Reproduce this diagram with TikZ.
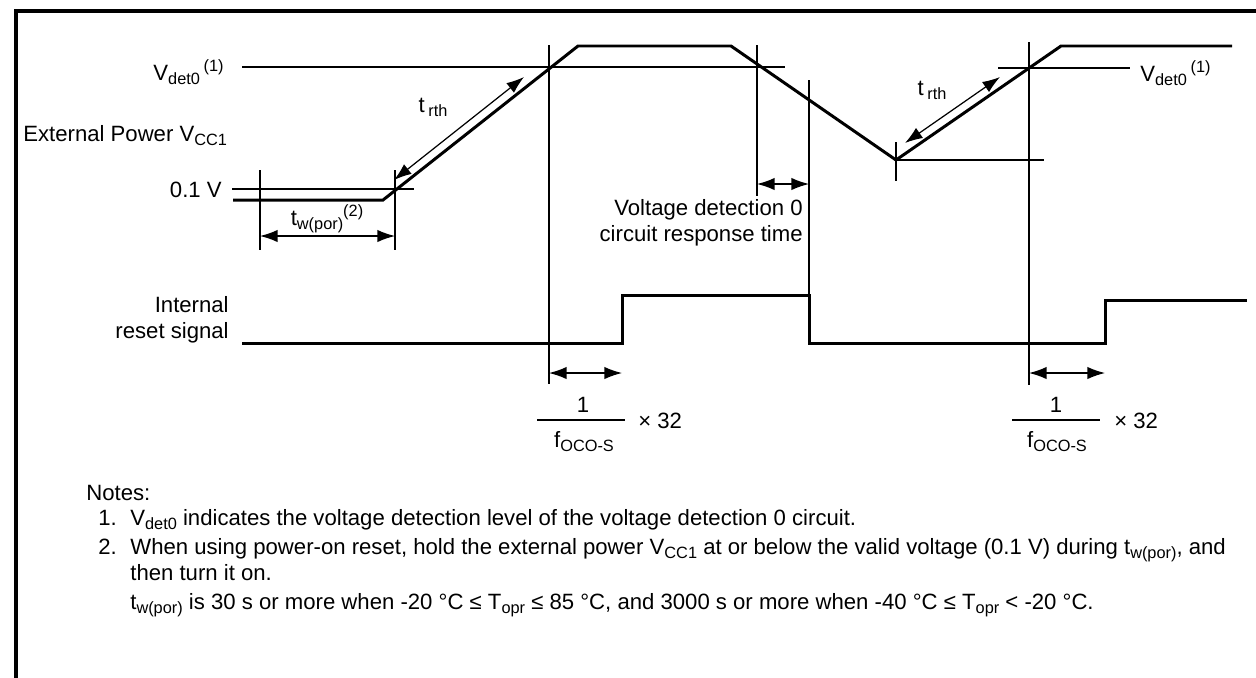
\documentclass[tikz,border=0pt]{standalone}
\usepackage{fontspec}
\setmainfont{Liberation Sans}
\usetikzlibrary{arrows.meta, positioning, calc}
\newcommand{\lowtxt}[1]{\raisebox{-0.22em}{\fontsize{9.3}{10}\selectfont #1}}
\newcommand{\hightxt}[1]{\raisebox{0.38em}{\fontsize{9.3}{10}\selectfont #1}}

\begin{document}
\begin{tikzpicture}[
      x=0.02cm, y=-0.02cm,
      wave/.style={line width=1.7pt, line join=miter},
      guide/.style={line width=0.7pt},
      span/.style={line width=0.7pt, {Latex[length=10pt,width=7pt]}-{Latex[length=10pt,width=7pt]}},
      lbl/.style={inner sep=0pt, font=\fontsize{12.6}{15}\selectfont},
      note/.style={lbl, anchor=base west},
      >=Latex
    ]
      \useasboundingbox (0,0) rectangle (1256,677);
      \draw[line width=2pt] (16,680) -- (16,11) -- (1260,11);

      % external power waveform
      \coordinate (p0) at (233,200);
      \coordinate (p1) at (383,200);
      \coordinate (p2) at (578,46);
      \coordinate (p3) at (731,46);
      \coordinate (p4) at (896,160);
      \coordinate (p5) at (1061,46);
      \coordinate (p6) at (1232,46);
      \draw[wave] (p0) -- (p1) -- (p2) -- (p3) -- (p4) -- (p5) -- (p6);

      % internal reset signal
      \coordinate (r0) at (242,343);
      \coordinate (r1) at (622,343);
      \coordinate (r2) at (622,295);
      \coordinate (r3) at (809,295);
      \coordinate (r4) at (809,343);
      \coordinate (r5) at (1105,343);
      \coordinate (r6) at (1105,300);
      \coordinate (r7) at (1247,300);
      \draw[wave] (r0) -- (r1) -- (r2) -- (r3) -- (r4) -- (r5) -- (r6) -- (r7);

      % guide lines
      \draw[guide] (242,67) coordinate (vdl) -- (785,67) coordinate (vdr);
      \draw[guide] (998,68) coordinate (vd2l) -- (1130,68) coordinate (vd2r);
      \draw[guide] (232,189) coordinate (lowl) -- (414,189) coordinate (lowr);
      \draw[guide] (260,170) coordinate (tpa) -- (260,250) coordinate (tpb);
      \draw[guide] (395,170) coordinate (tqa) -- (395,250) coordinate (tqb);
      \draw[guide] (549,45) coordinate (d1a) -- (549,384) coordinate (d1b);
      \draw[guide] (757,45) coordinate (d2a) -- (757,196) coordinate (d2b);
      \draw[guide] (809,80) coordinate (d3a) -- (809,343) coordinate (d3b);
      \draw[guide] (896,142) coordinate (d4a) -- (896,181) coordinate (d4b);
      \draw[guide] (896,160) coordinate (minl) -- (1044,160) coordinate (minr);
      \draw[guide] (1029,42) coordinate (d5a) -- (1029,385) coordinate (d5b);

      % dimension arrows
      \coordinate (twl) at (260,236);
      \coordinate (twr) at (395,236);
      \draw[span] (twl) -- (twr);
      \coordinate (rsl) at (757,184);
      \coordinate (rsr) at (809,184);
      \draw[span] (rsl) -- (rsr);
      \coordinate (ca1) at (549,373);
      \coordinate (cb1) at (622,373);
      \draw[span] (ca1) -- (cb1);
      \coordinate (ca2) at (1029,373);
      \coordinate (cb2) at (1105,373);
      \draw[span] (ca2) -- (cb2);
      \coordinate (rth1a) at (394,180);
      \coordinate (rth1b) at (524,77);
      \draw[span] (rth1a) -- (rth1b);
      \coordinate (rth2a) at (905,143);
      \coordinate (rth2b) at (1000,77);
      \draw[span] (rth2a) -- (rth2b);

      % labels
      \node[lbl, anchor=base east] (vdet) at (224,80) {V\lowtxt{det0}\,\hightxt{(1)}};
      \node[lbl, anchor=base west] (vdet2) at (1140,81) {V\lowtxt{det0}\,\hightxt{(1)}};
      \node[lbl, anchor=base west] (ext) at (23,141) {External Power V\lowtxt{CC1}};
      \node[lbl, anchor=base east] (low) at (222,197) {0.1 V};
      \node[lbl, anchor=base] (twpor) at (327,225) {t\lowtxt{w(por)}\hightxt{(2)}};
      \node[lbl, anchor=base] (trth1) at (433,112) {t\,\lowtxt{rth}};
      \node[lbl, anchor=base] (trth2) at (932,95) {t\,\lowtxt{rth}};
      \node[lbl, anchor=east, align=right] (resp) at (803,223) {Voltage detection 0\\circuit response time};
      \node[lbl, anchor=east, align=right] (intl) at (229,320) {Internal\\reset signal};

      % 1/fOCO-S x 32
      \node[lbl, anchor=base] (one1) at (583,412) {1};
      \draw[guide] (537,420) coordinate (bar1l) -- (625,420) coordinate (bar1r);
      \node[lbl, anchor=base] (fo1) at (584,447) {f\lowtxt{OCO-S}};
      \node[lbl, anchor=base west] (x1) at (638,428) {× 32};
      \node[lbl, anchor=base] (one2) at (1056,412) {1};
      \draw[guide] (1012,420) coordinate (bar2l) -- (1100,420) coordinate (bar2r);
      \node[lbl, anchor=base] (fo2) at (1057,447) {f\lowtxt{OCO-S}};
      \node[lbl, anchor=base west] (x2) at (1114,428) {× 32};

      % notes
      \node[note] (notes) at (86,500) {Notes:};
      \node[note] (n1) at (98,525) {1.};
      \node[note] (n1t) at (130,525) {V\lowtxt{det0} indicates the voltage detection level of the voltage detection 0 circuit.};
      \node[note] (n2) at (98,554) {2.};
      \node[note] (n2a) at (130,554) {When using power-on reset, hold the external power V\lowtxt{CC1} at or below the valid voltage (0.1 V) during t\lowtxt{w(por)}, and};
      \node[note] (n2b) at (130,580) {then turn it on.};
      \node[note] (n2c) at (130,609) {t\lowtxt{w(por)} is 30 s or more when -20 °C ≤ T\lowtxt{opr} ≤ 85 °C, and 3000 s or more when -40 °C ≤ T\lowtxt{opr} < -20 °C.};
    \end{tikzpicture}
\end{document}
